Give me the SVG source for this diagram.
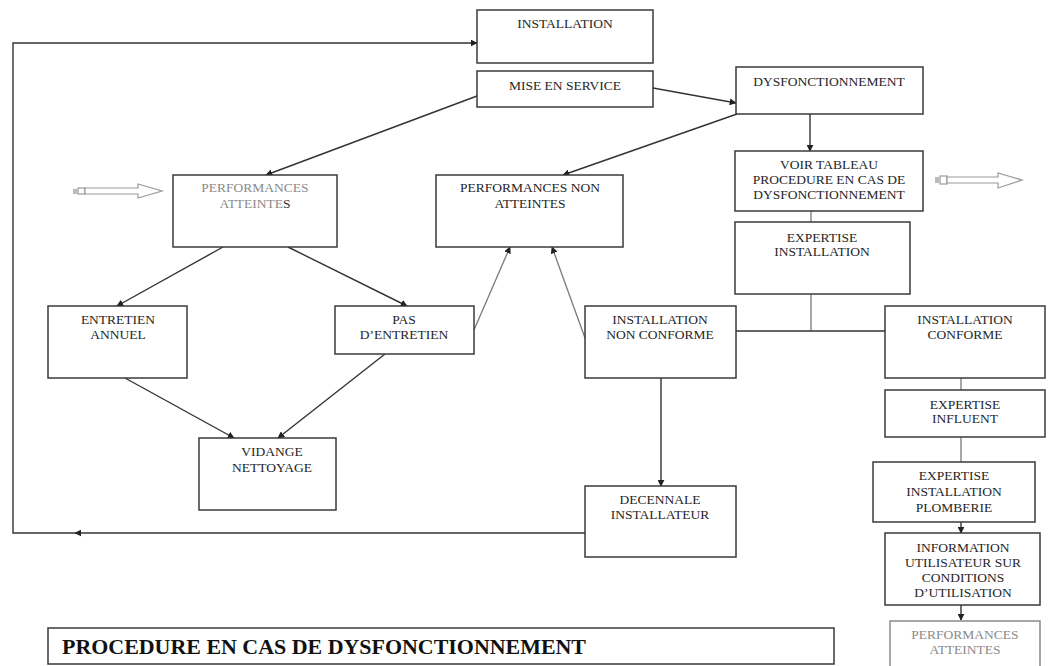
<svg xmlns="http://www.w3.org/2000/svg" width="1049" height="666" viewBox="0 0 1049 666">
<style>
.box{fill:#fff;stroke:#3a3a3a;stroke-width:1.5}
.gbox{fill:#fff;stroke:#8a8a8a;stroke-width:1.5}
.t{font-family:"Liberation Serif","Times New Roman",serif;font-size:13.5px;fill:#262626;text-anchor:middle}
.g{fill:#8a8a8a}
.ln{fill:none;stroke:#333;stroke-width:1.4}
.lg{fill:none;stroke:#7a7a7a;stroke-width:1.3}
.ha{fill:#fff;stroke:#9a9a9a;stroke-width:1.2}
.title{font-family:"Liberation Serif","Times New Roman",serif;font-size:20px;font-weight:bold;fill:#111}
</style>
<defs>
<marker id="ah" viewBox="0 0 10 10" refX="9" refY="5" markerWidth="7" markerHeight="7" orient="auto" markerUnits="userSpaceOnUse">
<path d="M0,0 L10,5 L0,10 z" fill="#222"/>
</marker>
</defs>
<rect width="1049" height="666" fill="#fff"/>

<g id="connectors">
<path class="ln" d="M585,533 L75,533" marker-end="url(#ah)"/>
<path class="ln" d="M75,533 L13,533 L13,43 L477,43" marker-end="url(#ah)"/>
<path class="ln" d="M653,88 L736,103" marker-end="url(#ah)"/>
<path class="ln" d="M477,96 L266,175" marker-end="url(#ah)"/>
<path class="ln" d="M737,114 L563,175" marker-end="url(#ah)"/>
<path class="ln" d="M810,114 L810,151" marker-end="url(#ah)"/>
<path class="lg" d="M811,211 L811,222"/>
<path class="lg" d="M811,294 L811,331"/>
<path class="ln" d="M736,331 L885,331"/>
<path class="ln" d="M223,247 L117,306" marker-end="url(#ah)"/>
<path class="ln" d="M288,247 L407,306" marker-end="url(#ah)"/>
<path class="ln" d="M125,378 L234,438" marker-end="url(#ah)"/>
<path class="ln" d="M385,354 L278,438" marker-end="url(#ah)"/>
<path class="lg" d="M474,330 L510,247" marker-end="url(#ah)"/>
<path class="lg" d="M585,338 L552,247" marker-end="url(#ah)"/>
<path class="ln" d="M661,378 L661,486" marker-end="url(#ah)"/>
<path class="lg" d="M961,378 L961,390"/>
<path class="lg" d="M961,437 L961,462"/>
<path class="ln" d="M961,522 L961,533" marker-end="url(#ah)"/>
<path class="ln" d="M961,605 L961,620" marker-end="url(#ah)"/>
</g>

<g id="hollow-arrow-left">
<rect x="73" y="189" width="4" height="5" fill="#bbb"/>
<rect x="78" y="188" width="7" height="6" class="ha"/>
<path class="ha" d="M85,188 L138,188 L138,184 L162,191 L138,198 L138,194 L85,194 z"/>
</g>
<g id="hollow-arrow-right">
<rect x="935" y="177" width="4" height="6" fill="#bbb"/>
<rect x="940" y="176" width="7" height="8" class="ha"/>
<path class="ha" d="M947,177 L998,177 L998,173 L1022,180 L998,188 L998,183 L947,183 z"/>
</g>

<g id="installation">
<rect class="box" x="477" y="10" width="176" height="53"/>
<text class="t" x="565" y="28">INSTALLATION</text>
</g>
<g id="mise-en-service">
<rect class="box" x="477" y="71" width="176" height="36"/>
<text class="t" x="565" y="90">MISE EN SERVICE</text>
</g>
<g id="dysfonctionnement">
<rect class="box" x="736" y="67" width="187" height="47"/>
<text class="t" x="829" y="86">DYSFONCTIONNEMENT</text>
</g>
<g id="performances-atteintes">
<rect class="box" x="173" y="175" width="164" height="72"/>
<text class="t g" x="255" y="192">PERFORMANCES</text>
<text class="t g" x="255" y="208">ATTEINTE<tspan fill="#333">S</tspan></text>
</g>
<g id="performances-non-atteintes">
<rect class="box" x="436" y="175" width="187" height="72"/>
<text class="t" x="530" y="192">PERFORMANCES NON</text>
<text class="t" x="530" y="208">ATTEINTES</text>
</g>
<g id="voir-tableau">
<rect class="box" x="735" y="151" width="188" height="60"/>
<text class="t" x="829" y="169">VOIR TABLEAU</text>
<text class="t" x="829" y="184">PROCEDURE EN CAS DE</text>
<text class="t" x="829" y="199">DYSFONCTIONNEMENT</text>
</g>
<g id="expertise-installation">
<rect class="box" x="735" y="222" width="175" height="72"/>
<text class="t" x="822" y="242">EXPERTISE</text>
<text class="t" x="822" y="256">INSTALLATION</text>
</g>
<g id="entretien-annuel">
<rect class="box" x="48" y="306" width="139" height="72"/>
<text class="t" x="118" y="324">ENTRETIEN</text>
<text class="t" x="118" y="339">ANNUEL</text>
</g>
<g id="pas-entretien">
<rect class="box" x="335" y="306" width="139" height="48"/>
<text class="t" x="404" y="324">PAS</text>
<text class="t" x="404" y="339">D’ENTRETIEN</text>
</g>
<g id="installation-non-conforme">
<rect class="box" x="585" y="306" width="151" height="72"/>
<text class="t" x="660" y="324">INSTALLATION</text>
<text class="t" x="660" y="339">NON CONFORME</text>
</g>
<g id="installation-conforme">
<rect class="box" x="885" y="306" width="160" height="72"/>
<text class="t" x="965" y="324">INSTALLATION</text>
<text class="t" x="965" y="339">CONFORME</text>
</g>
<g id="expertise-influent">
<rect class="box" x="885" y="390" width="160" height="47"/>
<text class="t" x="965" y="409">EXPERTISE</text>
<text class="t" x="965" y="423">INFLUENT</text>
</g>
<g id="vidange-nettoyage">
<rect class="box" x="199" y="438" width="137" height="72"/>
<text class="t" x="272" y="456">VIDANGE</text>
<text class="t" x="272" y="472">NETTOYAGE</text>
</g>
<g id="expertise-installation-plomberie">
<rect class="box" x="873" y="462" width="162" height="60"/>
<text class="t" x="954" y="480">EXPERTISE</text>
<text class="t" x="954" y="496">INSTALLATION</text>
<text class="t" x="954" y="512">PLOMBERIE</text>
</g>
<g id="decennale-installateur">
<rect class="box" x="585" y="486" width="151" height="71"/>
<text class="t" x="660" y="504">DECENNALE</text>
<text class="t" x="660" y="519">INSTALLATEUR</text>
</g>
<g id="information-utilisateur">
<rect class="box" x="885" y="533" width="155" height="72"/>
<text class="t" x="963" y="552">INFORMATION</text>
<text class="t" x="963" y="567">UTILISATEUR SUR</text>
<text class="t" x="963" y="582">CONDITIONS</text>
<text class="t" x="963" y="597">D’UTILISATION</text>
</g>
<g id="performances-atteintes-2">
<rect class="gbox" x="890" y="621" width="150" height="60"/>
<text class="t g" x="965" y="639">PERFORMANCES</text>
<text class="t g" x="965" y="654">ATTEINTES</text>
</g>
<g id="title">
<rect class="box" x="48" y="628" width="786" height="36"/>
<text class="title" x="62" y="654" textLength="524" lengthAdjust="spacingAndGlyphs">PROCEDURE EN CAS DE DYSFONCTIONNEMENT</text>
</g>
</svg>
